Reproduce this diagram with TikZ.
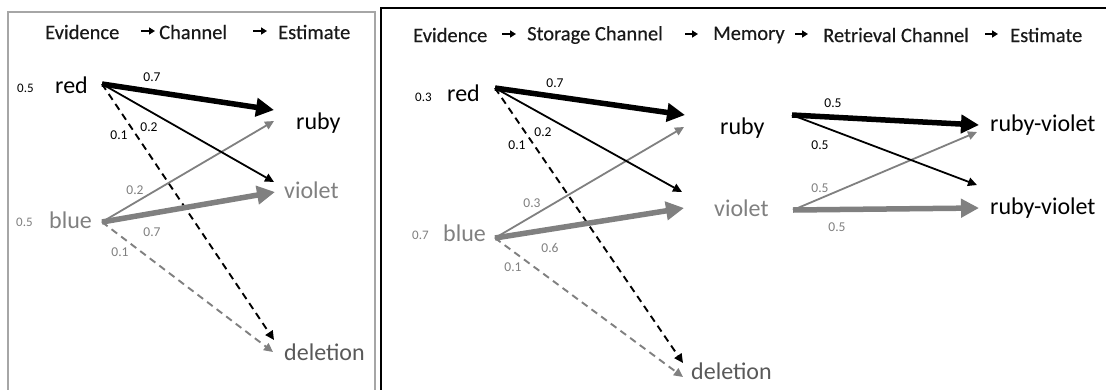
\documentclass[tikz,border=0pt]{standalone}
\usepackage{fontspec}
\setmainfont{Carlito}
\newfontfamily\hdrfont[FakeBold=0.35]{Carlito}
\usetikzlibrary{arrows.meta}
\definecolor{gr}{HTML}{808080}
\definecolor{dg}{HTML}{595959}
\definecolor{frame}{HTML}{A6A6A6}
\tikzset{
  hdr/.style={font=\hdrfont\fontsize{20.5}{24}\selectfont, anchor=west, inner sep=0pt, text=black!90},
  lbl/.style={font=\fontsize{24}{28}\selectfont, anchor=west, inner sep=0pt},
  prior/.style={font=\fontsize{13}{15}\selectfont, anchor=west, inner sep=0pt},
  num/.style={font=\fontsize{13.5}{16}\selectfont, inner sep=0pt},
  harrow/.style={line width=1.7pt, -{Triangle[length=6pt,width=7pt]}},
  thickarrow/.style={line width=5.5pt, -{Triangle[length=18pt,width=18pt]}},
  thinarrow/.style={line width=1.8pt, -{Triangle[length=9pt,width=8.5pt]}},
  dasharrow/.style={line width=1.9pt, dash pattern=on 7pt off 5pt, -{Triangle[length=9pt,width=8.5pt]}},
}
\begin{document}
\begin{tikzpicture}[x=1pt,y=-1pt]
\useasboundingbox (0,0) rectangle (1106,389);
\fill[white] (0,0) rectangle (1106,389);
% frames
\draw[frame, line width=1.5pt] (8,395) -- (8,12) -- (375,12) -- (375,395);
\draw[black, line width=1.5pt] (381,395) -- (381,8) -- (1110,8);

% ---------------- left panel header
\node[hdr] (lh1) at (45,32) {Evidence};
\node[hdr] (lh2) at (159,32) {Channel};
\node[hdr] (lh3) at (278,32) {Estimate};
\coordinate (la1s) at (141,31); \coordinate (la1e) at (155,31);
\coordinate (la2s) at (253,31); \coordinate (la2e) at (267,31);
\draw[harrow] (la1s) -- (la1e);
\draw[harrow] (la2s) -- (la2e);

% left nodes
\node[prior] (lp1) at (17,88) {0.5};
\node[prior, text=gr] (lp2) at (16,222) {0.5};
\node[lbl] (lred) at (55,85) {red};
\node[lbl, text=gr] (lblue) at (49,220) {blue};
\node[lbl] (lruby) at (296,123) {ruby};
\node[lbl, text=gr] (lviolet) at (284,190) {violet};
\node[lbl, text=dg] (ldel) at (284,352) {deletion};

\coordinate (lRs) at (102,84);
\coordinate (lBs) at (102,222);
\coordinate (lRruby) at (274,110);
\coordinate (lRviol) at (274,182);
\coordinate (lRdel) at (274,340);
\coordinate (lBruby) at (274,121);
\coordinate (lBviol) at (275,192);
\coordinate (lBdel) at (273,352);

\draw[dasharrow] (lRs) -- (lRdel);
\draw[dasharrow, gr] (lBs) -- (lBdel);
\draw[thinarrow, gr] (lBs) -- (lBruby);
\draw[thickarrow, gr] (lBs) -- (lBviol);
\draw[thinarrow] (lRs) -- (lRviol);
\draw[thickarrow] (lRs) -- (lRruby);

\node[num] (ln1) at (152,77) {0.7};
\node[num] (ln2) at (149,127) {0.2};
\node[num] (ln3) at (119,135) {0.1};
\node[num, text=gr] (ln4) at (135,190) {0.2};
\node[num, text=gr] (ln5) at (152,232) {0.7};
\node[num, text=gr] (ln6) at (120,252) {0.1};

% ---------------- right panel header
\node[hdr] (rh1) at (413,35) {Evidence};
\node[hdr] (rh2) at (527,35) {Storage Channel};
\node[hdr] (rh3) at (713,35) {Memory};
\node[hdr] (rh4) at (823,35) {Retrieval Channel};
\node[hdr] (rh5) at (1010,35) {Estimate};
\coordinate (ra1s) at (502,34); \coordinate (ra1e) at (516,34);
\coordinate (ra2s) at (685,34); \coordinate (ra2e) at (698,34);
\coordinate (ra3s) at (795,34); \coordinate (ra3e) at (808,34);
\coordinate (ra4s) at (985,34); \coordinate (ra4e) at (998,34);
\draw[harrow] (ra1s) -- (ra1e);
\draw[harrow] (ra2s) -- (ra2e);
\draw[harrow] (ra3s) -- (ra3e);
\draw[harrow] (ra4s) -- (ra4e);

% right nodes
\node[prior] (rp1) at (415,97) {0.3};
\node[prior, text=gr] (rp2) at (412,235) {0.7};
\node[lbl] (rred) at (447,93) {red};
\node[lbl, text=gr] (rblue) at (443,233) {blue};
\node[lbl] (rruby) at (720,128) {ruby};
\node[lbl, text=gr] (rviolet) at (714,208) {violet};
\node[lbl, text=dg] (rdel) at (691,371) {deletion};
\node[lbl] (rv1) at (990,125) {ruby-violet};
\node[lbl] (rv2) at (990,208) {ruby-violet};

\coordinate (rRs) at (495,88);
\coordinate (rBs) at (495,238);
\coordinate (rRruby) at (685,115);
\coordinate (rRviol) at (682,192);
\coordinate (rRdel) at (683,363);
\coordinate (rBruby) at (684,127);
\coordinate (rBviol) at (684,208);
\coordinate (rBdel) at (683,377);

\draw[dasharrow] (rRs) -- (rRdel);
\draw[dasharrow, gr] (rBs) -- (rBdel);
\draw[thinarrow, gr] (rBs) -- (rBruby);
\draw[thickarrow, gr] (rBs) -- (rBviol);
\draw[thinarrow] (rRs) -- (rRviol);
\draw[thickarrow] (rRs) -- (rRruby);

\node[num] (rn1) at (555,83) {0.7};
\node[num] (rn2) at (543,132) {0.2};
\node[num] (rn3) at (517,145) {0.1};
\node[num, text=gr] (rn4) at (532,203) {0.3};
\node[num, text=gr] (rn5) at (550,248) {0.6};
\node[num, text=gr] (rn6) at (513,267) {0.1};

% retrieval
\coordinate (mRs) at (792,115);
\coordinate (mVs) at (793,210);
\coordinate (mR1) at (979,125);
\coordinate (mR2) at (977,185);
\coordinate (mV1) at (977,132);
\coordinate (mV2) at (979,208);
\draw[thinarrow, gr] (mVs) -- (mV1);
\draw[thickarrow, gr] (mVs) -- (mV2);
\draw[thinarrow] (mRs) -- (mR2);
\draw[thickarrow] (mRs) -- (mR1);

\node[num] (mn1) at (833,103) {0.5};
\node[num] (mn2) at (820,145) {0.5};
\node[num, text=gr] (mn3) at (820,188) {0.5};
\node[num, text=gr] (mn4) at (837,227) {0.5};
\end{tikzpicture}
\end{document}
